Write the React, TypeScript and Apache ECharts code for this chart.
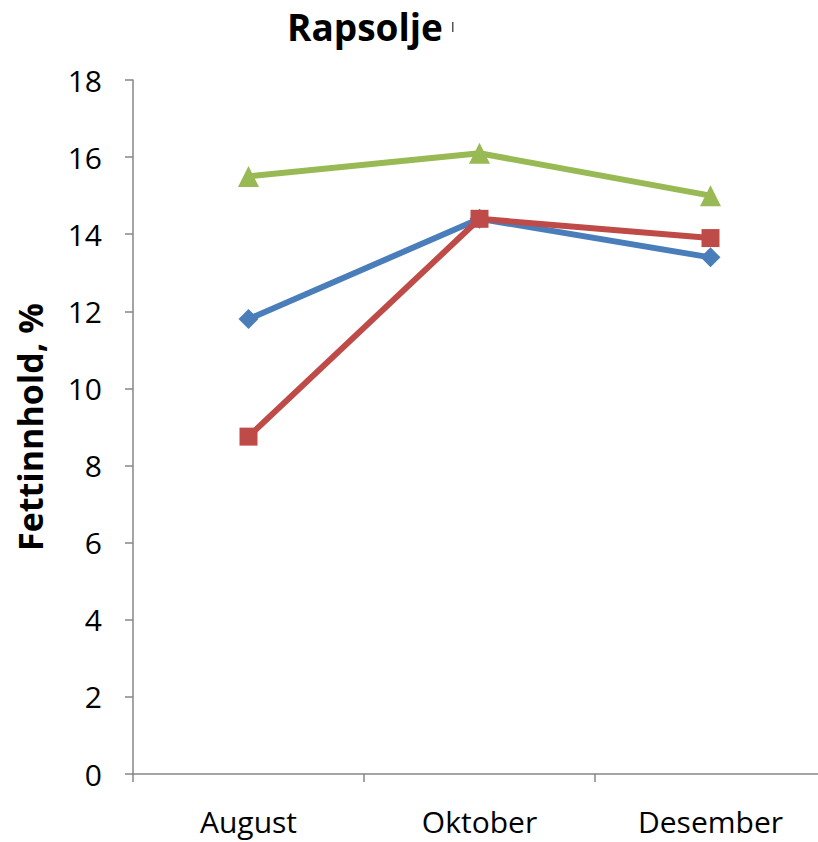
import React, { useEffect, useRef } from "react";
import * as echarts from "echarts";

const categories = ["August", "Oktober", "Desember"];
const seriesBlue = [11.8, 14.4, 13.4];
const seriesRed = [8.75, 14.4, 13.9];
const seriesGreen = [15.5, 16.1, 15.0];
const yTicks = { min: 0, max: 18, interval: 2 };

export default function App() {
  const ref = useRef<HTMLDivElement>(null);
  useEffect(() => {
    if (!ref.current) return;
    const chart = echarts.init(ref.current, undefined, { renderer: "svg" });
    const font = "'Open Sans', 'Liberation Sans', sans-serif";
    const axisColor = "#868686";
    chart.setOption({
      animation: false,
      title: {
        text: "Rapsolje",
        left: 360,
        textAlign: "center",
        top: 3,
        textStyle: { fontFamily: font, fontSize: 37, fontWeight: "bold", color: "#000" },
      },
      graphic: [
        {
          type: "rect",
          shape: { x: 452, y: 22, width: 1.5, height: 10 },
          style: { fill: "#555" },
        },
      ],
      grid: { left: 133, top: 80, width: 693, height: 694, containLabel: false },
      xAxis: {
        type: "category",
        data: categories,
        boundaryGap: true,
        axisLine: { lineStyle: { color: axisColor, width: 1.5 } },
        axisTick: { show: true, length: 8, lineStyle: { color: axisColor, width: 1.5 } },
        axisLabel: { fontFamily: font, fontSize: 30, color: "#000", margin: 32 },
      },
      yAxis: {
        type: "value",
        min: yTicks.min,
        max: yTicks.max,
        interval: yTicks.interval,
        name: "Fettinnhold, %",
        nameLocation: "middle",
        nameGap: 86,
        nameRotate: 90,
        nameTextStyle: { fontFamily: font, fontSize: 34, fontWeight: "bold", color: "#000" },
        axisLine: { show: true, lineStyle: { color: axisColor, width: 1.5 } },
        axisTick: { show: true, length: 8, lineStyle: { color: axisColor, width: 1.5 } },
        splitLine: { show: false },
        axisLabel: { fontFamily: font, fontSize: 30, color: "#000", margin: 31 },
      },
      series: [
        {
          type: "line",
          data: seriesBlue,
          symbol: "diamond",
          symbolSize: 20,
          lineStyle: { color: "#4a7ebb", width: 6 },
          itemStyle: { color: "#4a7ebb" },
          z: 2,
        },
        {
          type: "line",
          data: seriesRed,
          symbol: "rect",
          symbolSize: 18,
          lineStyle: { color: "#be4b48", width: 6 },
          itemStyle: { color: "#be4b48" },
          z: 3,
        },
        {
          type: "line",
          data: seriesGreen,
          symbol: "triangle",
          symbolSize: 21,
          lineStyle: { color: "#98b954", width: 6 },
          itemStyle: { color: "#98b954" },
          z: 4,
        },
      ],
    });
    return () => chart.dispose();
  }, []);
  return (
    <div style={{ position: "absolute", left: 0, top: 0, width: 818, height: 842, overflow: "hidden" }}>
      <div ref={ref} style={{ width: 840, height: 842 }} />
    </div>
  );
}
